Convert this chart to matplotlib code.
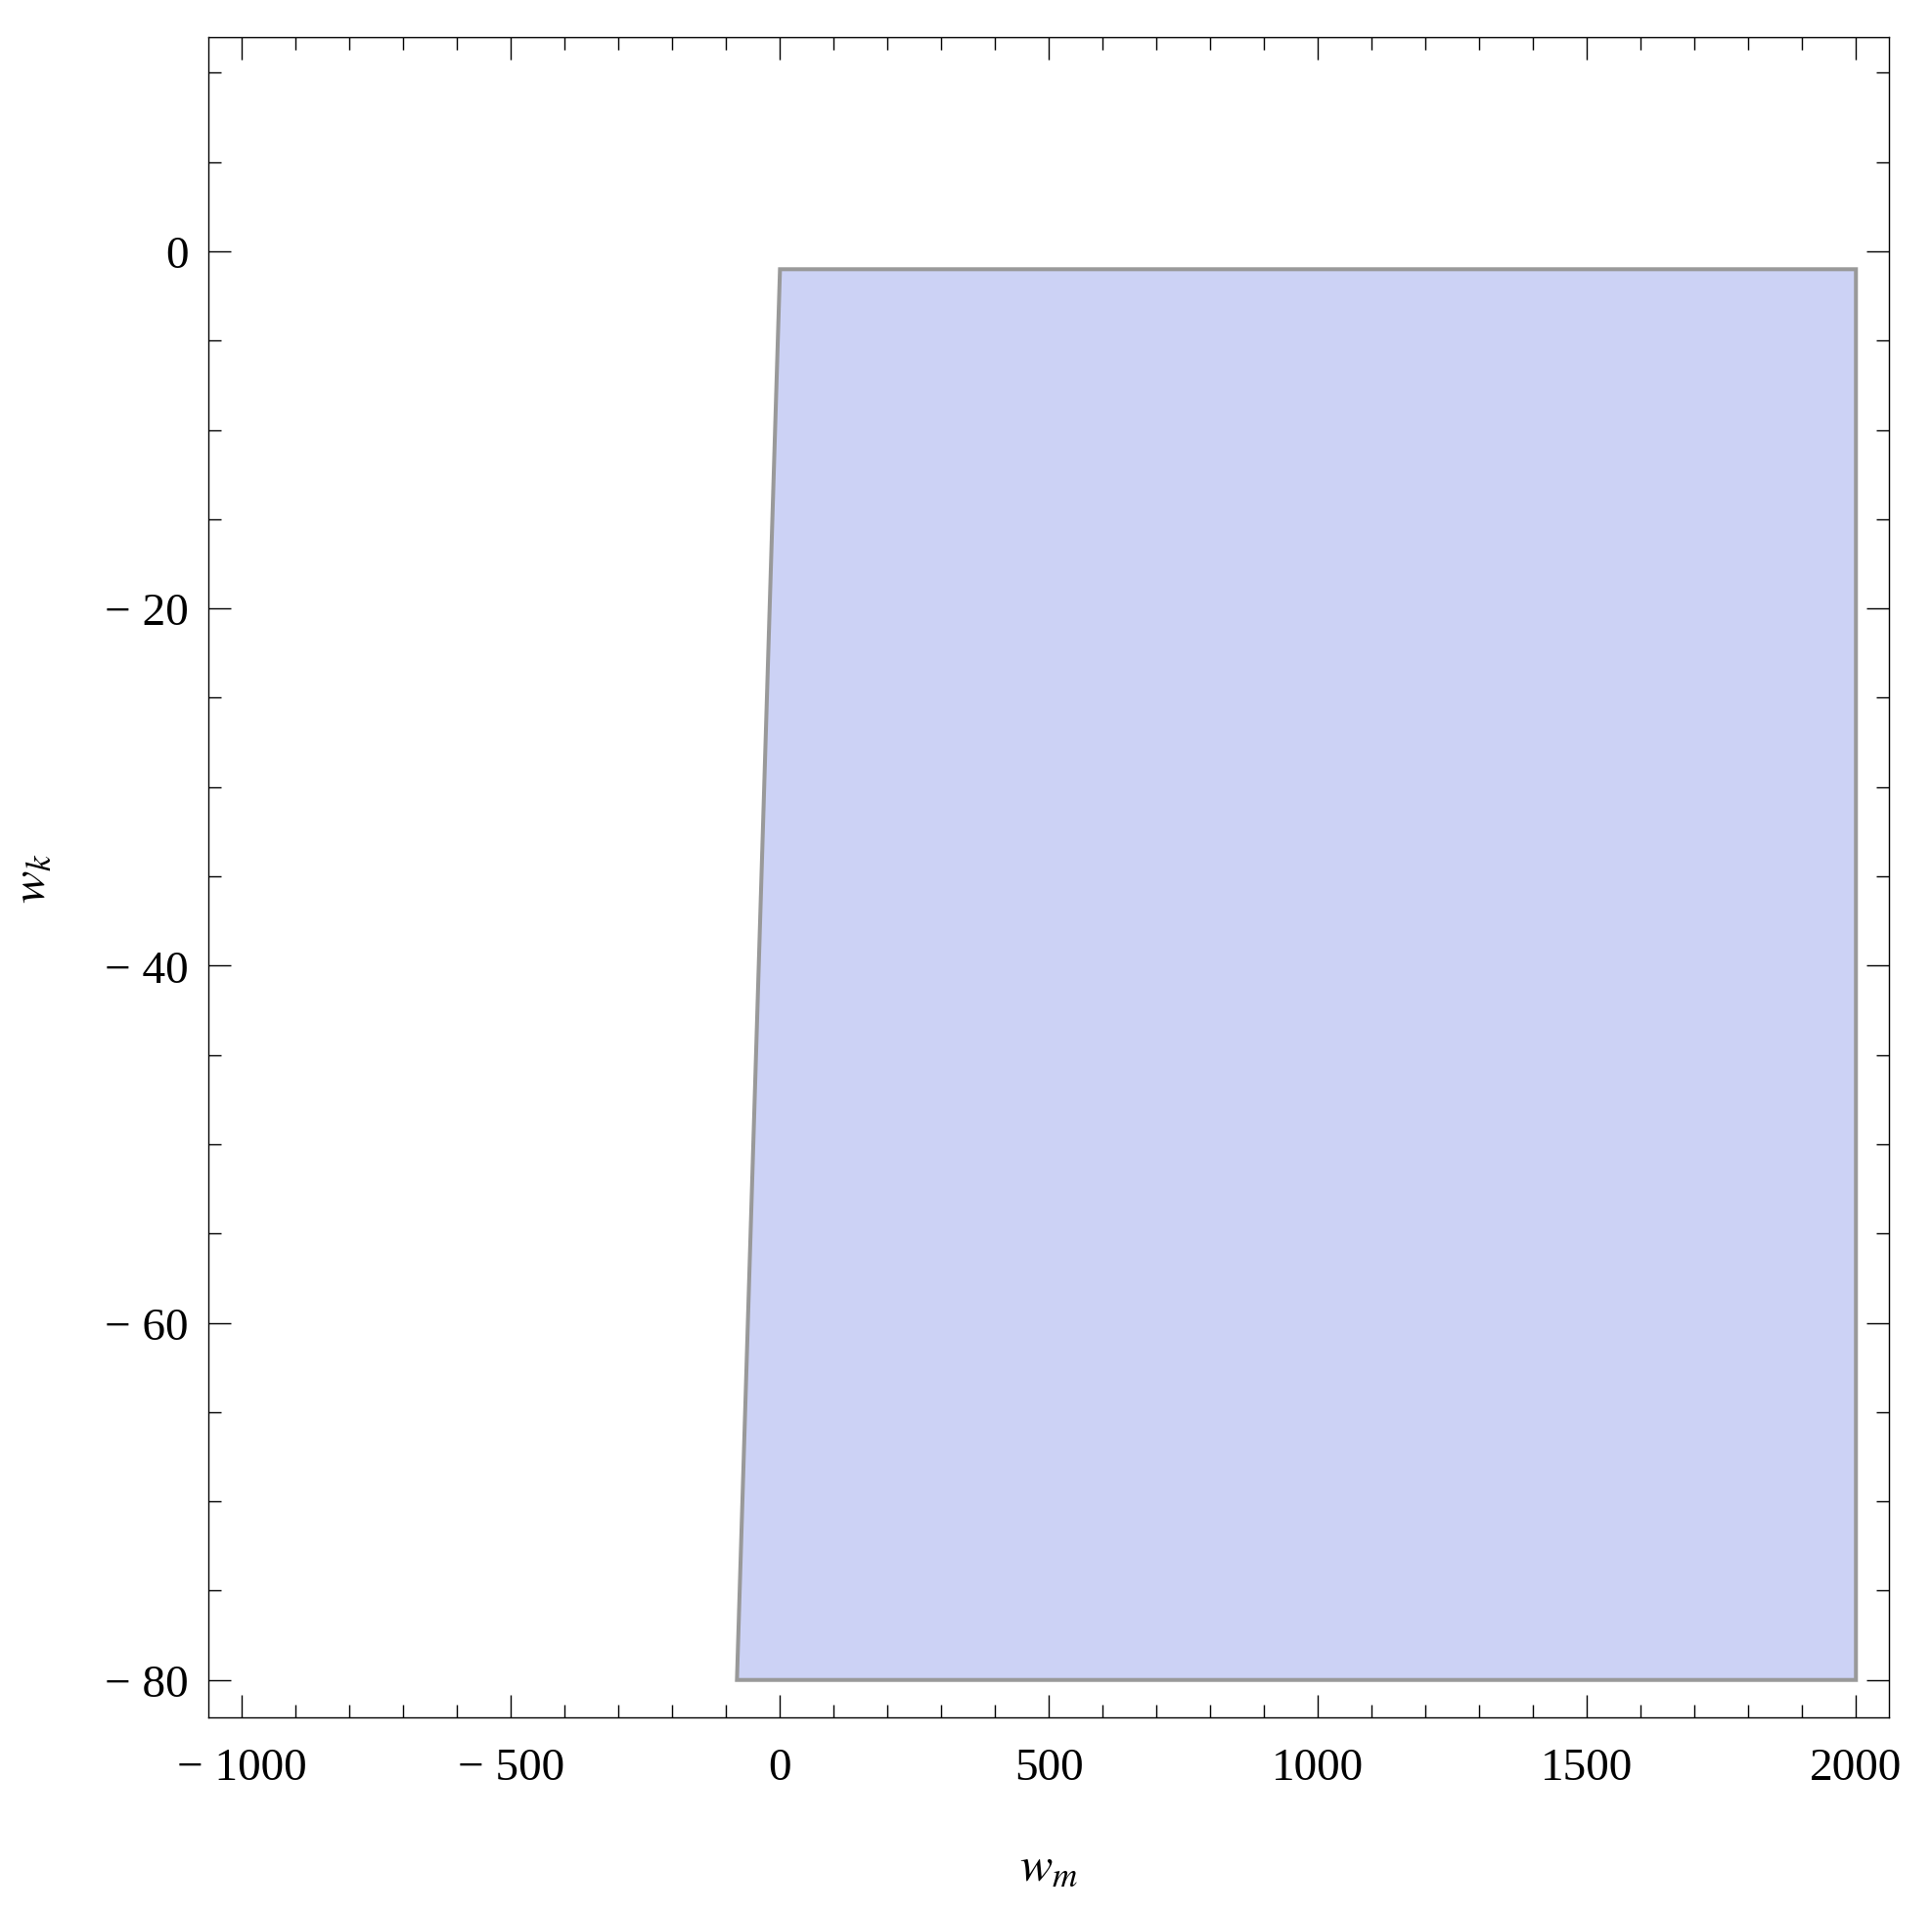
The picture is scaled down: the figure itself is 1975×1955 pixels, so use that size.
import numpy as np
import matplotlib
matplotlib.use("Agg")
import matplotlib.pyplot as plt
from matplotlib.ticker import MultipleLocator, FuncFormatter

plt.rcParams['font.family'] = ['Liberation Serif', 'DejaVu Serif']
plt.rcParams['mathtext.fontset'] = 'stix'

# allowed region in the (w_m, w_k) plane
region_wm = [-80, 0, 2000, 2000]
region_wk = [-80, -1, -1, -80]

fig = plt.figure(figsize=(19.75, 19.56), dpi=100)
ax = fig.add_axes([0.1080, 0.1017, 0.8699, 0.8784])

ax.fill(region_wm, region_wk, facecolor='#ccd2f5', edgecolor='#999999',
        linewidth=2.9, joinstyle='miter')

ax.set_xlim(-1062, 2062)
ax.set_ylim(-82.1, 12)

ax.xaxis.set_major_locator(MultipleLocator(500))
ax.xaxis.set_minor_locator(MultipleLocator(100))
ax.yaxis.set_major_locator(MultipleLocator(20))
ax.yaxis.set_minor_locator(MultipleLocator(5))


def fmt(v, pos):
    v = int(round(v))
    if v < 0:
        return '\u2212 ' + str(-v)
    return str(v)


ax.xaxis.set_major_formatter(FuncFormatter(fmt))
ax.yaxis.set_major_formatter(FuncFormatter(fmt))

ax.tick_params(which='both', direction='in', top=True, right=True,
               width=1.0, colors='black')
ax.tick_params(which='major', length=16.5, labelsize=34)
ax.tick_params(which='minor', length=9.6)
ax.tick_params(axis='x', which='major', pad=22)
ax.tick_params(axis='y', which='major', pad=15)

for s in ax.spines.values():
    s.set_linewidth(1.0)

ax.set_xlabel('$w_m$', fontsize=36, labelpad=41)
ax.set_ylabel('$w_k$', fontsize=36, labelpad=36)

fig.savefig('out.png', dpi=100)
